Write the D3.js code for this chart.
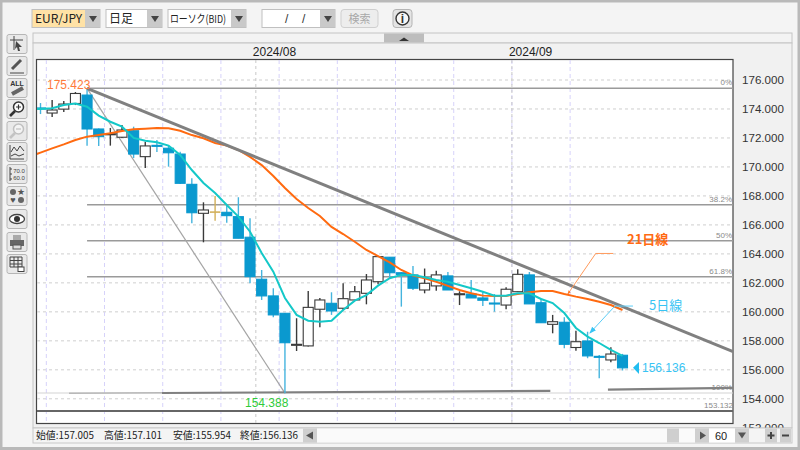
<!DOCTYPE html>
<html>
<head>
<meta charset="utf-8">
<script src="https://cdn.jsdelivr.net/npm/d3@7"></script>
<style>
  html, body { margin: 0; padding: 0; background: #f4f4f4; overflow: hidden; }
  svg { display: block; }
  text { font-family: "Liberation Sans", sans-serif; }
  .jp { font-family: "Noto Sans CJK JP", sans-serif; }
</style>
</head>
<body>
<div id="chart-container"></div>
<script>
const opens = [174.07,173.72,173.99,174.38,174.96,172.62,172.25,172.05,172.50,170.71,171.49,171.29,170.89,168.80,166.80,166.91,166.87,166.57,165.15,162.25,161.10,159.90,157.72,157.65,160.18,160.59,160.25,160.82,161.28,162.08,163.77,162.70,162.55,161.51,161.79,162.48,161.21,161.23,160.96,160.61,160.47,161.39,162.55,160.63,159.14,159.28,157.54,157.99,156.93,156.68,157.005];
const highs = [174.41,174.62,174.55,175.17,175.423,172.65,172.69,172.89,172.78,171.74,171.86,171.45,171.05,169.22,167.56,168.00,167.38,167.91,166.46,162.89,161.63,159.92,159.56,161.44,160.96,161.35,161.97,161.79,162.61,163.82,163.79,162.75,163.17,162.99,162.84,162.75,161.42,162.20,161.39,161.23,161.70,162.94,162.75,160.94,159.79,159.63,158.70,158.63,157.02,157.56,157.101];
const lows = [173.65,173.45,173.79,174.27,171.47,171.45,171.47,172.00,170.62,169.93,171.03,170.02,168.82,166.11,164.80,166.29,166.15,165.08,161.97,160.82,159.63,154.388,157.30,157.61,158.94,159.79,160.13,160.75,160.52,161.90,162.32,160.36,161.51,161.28,161.46,161.51,160.47,160.96,160.40,160.01,160.18,161.37,160.55,159.23,158.52,157.49,157.32,156.80,155.42,156.52,155.954];
const closes = [174.03,173.93,174.34,175.07,172.62,172.09,172.29,172.55,170.89,171.45,171.45,170.98,168.87,166.84,167.03,166.91,166.64,165.08,162.43,161.10,159.79,157.87,157.76,160.31,160.82,160.06,160.91,161.39,162.20,163.81,162.70,162.57,161.63,161.97,162.55,161.51,161.25,160.96,160.80,160.57,161.56,162.59,160.55,159.25,159.32,157.76,157.94,156.96,156.89,157.09,156.136];

// both averages start one day before the first candle, the plot edge cuts them
const ma5 = [174.02,174.00,174.05,174.28,174.37,174.16,173.54,173.12,172.78,172.00,171.81,171.70,171.47,170.83,169.79,168.89,168.20,167.37,166.57,165.53,164.06,162.77,160.96,159.79,159.39,159.32,159.39,160.13,160.77,161.16,161.81,162.32,162.55,162.55,162.39,162.20,162.08,161.85,161.63,161.39,161.12,161.12,161.28,161.28,160.89,160.61,159.92,158.89,158.29,157.85,157.37,156.96];
const ma21 = [170.70,170.99,171.28,171.56,171.86,172.09,172.20,172.32,172.48,172.60,172.64,172.69,172.67,172.50,172.20,171.98,171.65,171.47,171.17,170.69,170.13,169.38,168.55,167.79,167.17,166.62,165.86,165.37,164.84,164.27,163.85,163.41,162.89,162.51,162.32,162.08,161.79,161.51,161.28,161.12,161.10,161.10,161.23,161.35,161.44,161.44,161.23,161.05,160.89,160.70,160.47,160.13];

const yTicks = [176,174,172,170,168,166,164,162,160,158,156,154,152];
const monthLabels = ["2024/08","2024/09"];
const monthIndex = [18.5,40.5];
const weekIndex = [0.5,5.5,10.5,15.5,20.5,25.5,30.5,35.5,40.5,45.5];

const fibValues = [175.423,167.39,164.906,162.423];
const fibLabels = ["0%","38.2%","50%","61.8%"];
const fibLow = 154.40;
const mainTrend = [[4,175.423],[59.5,157.26]];
const fibDiagonal = [[4,175.423],[21,154.388]];
const supportThin = [[2.45,154.38],[10.44,154.42]];
const supportLeft = [[10.44,154.40],[43.8,154.55]];
const supportRight = [[48.75,154.64],[59.5,154.75]];
const leader21 = [[49.2,164.03],[47.7,164.03],[45.3,161.23]];
const leader5 = [[50.9,160.40],[49.35,160.40],[47.2,158.54]];

const statusLabels = ["始値:157.005","高値:157.101","安値:155.954","終値:156.136"];
const statusX = [36,104,173,240];

const main = function() {
  const svg = d3.select("#chart-container").append("svg").attr("width",800).attr("height",450);
  const defs = svg.append("defs");
  defs.append("clipPath").attr("id","plot-clip").append("rect").attr("x",37).attr("y",60).attr("width",696).attr("height",351);
  const arrow = function(id,color,size) {
    defs.append("marker").attr("id",id).attr("viewBox","0 0 8 8").attr("refX",7).attr("refY",4)
      .attr("markerWidth",size).attr("markerHeight",size).attr("orient","auto")
      .append("path").attr("d","M0,1 L8,4 L0,7 Z").attr("fill",color);
  };
  arrow("arrow-orange","#ff7a2a",4);
  arrow("arrow-cyan","#38c4f4",7);

  const x = d3.scaleLinear().domain([0,50]).range([40.5,622.5]);
  const y = d3.scaleLinear().domain([176,154]).range([80,398.8]);

  // window frame
  svg.append("rect").attr("width",800).attr("height",450).attr("fill","#f4f4f4");
  svg.append("rect").attr("x",1).attr("y",1).attr("width",798).attr("height",447.5)
    .attr("fill","none").attr("stroke","#b9b9b9").attr("stroke-width",3);

  drawToolbar(svg);
  drawSideButtons(svg);

  // strips above the plot
  svg.append("rect").attr("x",33).attr("y",33).attr("width",759).attr("height",10).attr("fill","#f3f3f3").attr("stroke","#c4c4c4");
  svg.append("rect").attr("x",384).attr("y",33.5).attr("width",40).attr("height",9).attr("fill","#bdbdbd");
  svg.append("path").attr("d","M399,41 L404,37.5 L409,41 Z").attr("fill","#333");
  svg.append("rect").attr("x",33).attr("y",43).attr("width",759).attr("height",385).attr("fill","#f1f1f1").attr("stroke","#c4c4c4");

  svg.selectAll(".month").data(monthLabels).enter().append("text")
    .attr("x",(d,i) => x(monthIndex[i]) - 3).attr("y",56).attr("font-size",12).attr("fill","#222").text(d => d);

  // plot
  svg.append("rect").attr("x",36.5).attr("y",59.5).attr("width",696.5).attr("height",364)
    .attr("fill","#fff").attr("stroke","#444").attr("stroke-width",1.2);

  const gridLayer = svg.append("g");
  gridLayer.selectAll(".h").data(yTicks.slice(0,-1)).enter().append("line")
    .attr("x1",37).attr("x2",733).attr("y1",d => y(d)).attr("y2",d => y(d))
    .attr("stroke","#cfcfcf").attr("stroke-dasharray","3 3");
  gridLayer.selectAll(".week").data(weekIndex).enter().append("line")
    .attr("x1",d => x(d)).attr("x2",d => x(d)).attr("y1",60).attr("y2",423)
    .attr("stroke","#d6d2fa").attr("stroke-dasharray","4 3");
  gridLayer.selectAll(".month-line").data(monthIndex).enter().append("line")
    .attr("x1",d => x(d)).attr("x2",d => x(d)).attr("y1",60).attr("y2",423)
    .attr("stroke","#c8c8c8").attr("stroke-dasharray","3 3");

  const plot = svg.append("g").attr("clip-path","url(#plot-clip)");

  // fibonacci levels
  plot.selectAll(".fib").data(fibValues).enter().append("line")
    .attr("x1",x(4)).attr("x2",733).attr("y1",d => y(d)).attr("y2",d => y(d))
    .attr("stroke","#9a9a9a").attr("stroke-width",1.5);
  plot.append("line").attr("x1",37).attr("x2",733).attr("y1",y(fibLow)).attr("y2",y(fibLow))
    .attr("stroke","#d4d4d4").attr("stroke-width",1.2);

  const priceLine = d3.line().x(d => x(d[0])).y(d => y(d[1]));
  plot.append("path").attr("d",priceLine(fibDiagonal)).attr("fill","none").attr("stroke","#a4a4a4").attr("stroke-width",1.2);
  plot.append("path").attr("d",priceLine(supportThin)).attr("fill","none").attr("stroke","#b8b8b8").attr("stroke-width",1.4);
  plot.append("path").attr("d",priceLine(supportLeft)).attr("fill","none").attr("stroke","#808080").attr("stroke-width",2.2);
  plot.append("path").attr("d",priceLine(supportRight)).attr("fill","none").attr("stroke","#808080").attr("stroke-width",2.2);

  // candles
  const candleData = opens.map((o,i) => ({i:i,o:o,h:highs[i],l:lows[i],c:closes[i]}));
  const wickColor = d => d.c < d.o ? "#45b4de" : d.c > d.o ? "#3a3a3a" : "#d2b05a";
  const candles = plot.selectAll(".candle").data(candleData).enter().append("g");
  candles.append("line").attr("x1",d => x(d.i)).attr("x2",d => x(d.i))
    .attr("y1",d => y(d.h)).attr("y2",d => y(d.l))
    .attr("stroke",wickColor).attr("stroke-width",1.4);
  candles.append("rect").attr("x",d => x(d.i) - 5).attr("width",10)
    .attr("y",d => y(Math.max(d.o,d.c))).attr("height",d => Math.max(Math.abs(y(d.o) - y(d.c)),1))
    .attr("fill",d => d.c < d.o ? "#0a99cf" : d.c > d.o ? "#fff" : "#d2b05a")
    .attr("stroke",d => d.c < d.o ? "#0a99cf" : d.c > d.o ? "#3a3a3a" : "#d2b05a")
    .attr("stroke-width",d => d.c === d.o ? 0.6 : 1.1);

  // moving averages
  const maLine = d3.line().x((d,i) => x(i - 1)).y(d => y(d));
  plot.append("path").attr("d",maLine(ma21)).attr("fill","none").attr("stroke","#ff6a10").attr("stroke-width",2);
  plot.append("path").attr("d",maLine(ma5)).attr("fill","none").attr("stroke","#14c8c8").attr("stroke-width",2);

  plot.append("path").attr("d",priceLine(mainTrend)).attr("fill","none").attr("stroke","#808080").attr("stroke-width",3);

  // separator of the lower panel, sits over the marks
  svg.append("line").attr("x1",37).attr("x2",733).attr("y1",411).attr("y2",411).attr("stroke","#666").attr("stroke-width",2);

  // leaders
  svg.append("path").attr("d",priceLine(leader21)).attr("fill","none").attr("stroke","#ff9a5c").attr("stroke-width",1)
    .attr("marker-end","url(#arrow-orange)");
  svg.append("path").attr("d",priceLine(leader5)).attr("fill","none").attr("stroke","#5ccdf6").attr("stroke-width",1)
    .attr("marker-end","url(#arrow-cyan)");
  svg.append("text").attr("class","jp").attr("x",627).attr("y",244).attr("font-size",13).attr("font-weight",700).attr("fill","#ff6a13").text("21日線");
  svg.append("text").attr("class","jp").attr("x",649).attr("y",310).attr("font-size",13).attr("fill","#38c4f4").text("5日線");

  // price labels
  svg.append("text").attr("x",47).attr("y",89).attr("font-size",12).attr("fill","#ff7a3a").text("175.423");
  svg.append("text").attr("x",245).attr("y",407).attr("font-size",12).attr("fill","#2fcb3a").text("154.388");
  svg.append("path").attr("d","M639,362 L633,367.8 L639,374 Z").attr("fill","#22bdf0");
  svg.append("text").attr("x",642).attr("y",372).attr("font-size",12).attr("fill","#38c4f4").text("156.136");

  // fibonacci captions
  svg.selectAll(".fib-label").data(fibLabels).enter().append("text")
    .attr("x",732).attr("y",(d,i) => y(fibValues[i]) - 3).attr("text-anchor","end")
    .attr("font-size",8).attr("fill","#8a8a8a").text(d => d);
  svg.append("text").attr("x",732).attr("y",390).attr("text-anchor","end").attr("font-size",8).attr("fill","#8a8a8a").text("100%");
  svg.append("text").attr("x",733).attr("y",408).attr("text-anchor","end").attr("font-size",8).attr("fill","#8a8a8a").text("153.132");

  // right axis, the lowest label is cut by the status bar
  const axis = svg.append("g").attr("transform","translate(733,0)")
    .call(d3.axisRight(y).tickValues(yTicks).tickFormat(d3.format(".3f")).tickSize(0).tickPadding(9));
  axis.select(".domain").remove();
  axis.selectAll("text").attr("font-size",11.6).attr("font-family","'Liberation Sans', sans-serif").attr("fill","#333");
  svg.append("rect").attr("x",733.6).attr("y",428).attr("width",60).attr("height",14).attr("fill","#f4f4f4");

  drawStatusBar(svg);
};

const selectBox = function(svg,x0,width,label,fill) {
  const g = svg.append("g");
  g.append("rect").attr("x",x0).attr("y",9.5).attr("width",width).attr("height",18)
    .attr("fill",fill).attr("stroke","#c0c0c0");
  g.append("rect").attr("x",x0 + width - 15).attr("y",10).attr("width",15).attr("height",17).attr("fill","#c9c9c9");
  g.append("path").attr("d",`M${x0 + width - 11},16 h8 l-4,6 Z`).attr("fill","#444");
  if (label) {
    g.append("text").attr("class","jp").attr("x",x0 + 3).attr("y",23).attr("font-size",12).attr("fill","#222").text(label);
  }
  return g;
};

const drawToolbar = function(svg) {
  selectBox(svg,32,68,"EUR/JPY","#ffe2a6");
  selectBox(svg,106,56,"日足","#fff");
  selectBox(svg,168,78,null,"#fff");
  svg.append("text").attr("class","jp").attr("x",170).attr("y",23).attr("font-size",11)
    .attr("textLength",56).attr("lengthAdjust","spacingAndGlyphs").attr("fill","#222").text("ローソク(BID)");
  selectBox(svg,262,73,null,"#fff");
  svg.append("text").attr("x",285).attr("y",23).attr("font-size",12).attr("fill","#333").text("/");
  svg.append("text").attr("x",302).attr("y",23).attr("font-size",12).attr("fill","#333").text("/");
  svg.append("rect").attr("x",341).attr("y",9.5).attr("width",37).attr("height",18).attr("rx",3)
    .attr("fill","#ededed").attr("stroke","#cfcfcf");
  svg.append("text").attr("class","jp").attr("x",359.5).attr("y",23).attr("text-anchor","middle").attr("font-size",11).attr("fill","#a8a8a8").text("検索");
  svg.append("rect").attr("x",393).attr("y",9.5).attr("width",19).attr("height",18).attr("rx",3)
    .attr("fill","#e4e4e4").attr("stroke","#b4b4b4");
  svg.append("circle").attr("cx",402.5).attr("cy",18.5).attr("r",6.5).attr("fill","#f6f6f6").attr("stroke","#333").attr("stroke-width",1.4);
  svg.append("text").attr("x",402.5).attr("y",23).attr("text-anchor","middle").attr("font-size",12).attr("font-weight",700).attr("fill","#333").text("i");
};

const drawSideButtons = function(svg) {
  const centers = [44,66,88,109,131,152,174,196,219,242,264];
  const buttons = svg.selectAll(".side").data(centers).enter().append("g")
    .attr("transform",d => `translate(17,${d})`);
  buttons.append("rect").attr("x",-10).attr("y",-9.5).attr("width",20).attr("height",19).attr("rx",2)
    .attr("fill","#e9e9e9").attr("stroke","#b6b6b6");
  const icon = (i) => d3.select(buttons.nodes()[i]);
  const stroke = (g,d,w,c) => g.append("path").attr("d",d).attr("fill","none").attr("stroke",c || "#444").attr("stroke-width",w || 1);
  const solid = (g,d,c) => g.append("path").attr("d",d).attr("fill",c || "#444");

  stroke(icon(0),"M-7,-4 H6 M-3,-8 V6",1);
  solid(icon(0),"M-1,-3 L5,3 L2,3 L3,7 L1,7 L0,3 L-2,5 Z");
  stroke(icon(1),"M-5,3 L4,-6",3,"#555");
  stroke(icon(1),"M-7,7 H7",1);
  icon(2).append("text").attr("x",0).attr("y",-2).attr("text-anchor","middle").attr("font-size",7).attr("font-weight",700).attr("fill","#333").text("ALL");
  stroke(icon(2),"M-5,6 L6,0",4,"#666");
  icon(3).append("circle").attr("cx",1.5).attr("cy",-2).attr("r",5).attr("fill","#fff").attr("stroke","#333").attr("stroke-width",1.5);
  stroke(icon(3),"M-2,2 L-7,7",2.6,"#333");
  stroke(icon(3),"M-1,-2 H4 M1.5,-4.5 V0.5",1.2,"#333");
  icon(4).append("circle").attr("cx",1.5).attr("cy",-2).attr("r",5).attr("fill","#f4f4f4").attr("stroke","#c0c0c0").attr("stroke-width",1.5);
  stroke(icon(4),"M-2,2 L-7,7",2.6,"#c4c4c4");
  stroke(icon(4),"M-1,-2 H4",1.2,"#c0c0c0");
  stroke(icon(5),"M-7,-7 V7 H7",1);
  stroke(icon(5),"M-6,0 L-3,-5 L0,-1 L3,-6 L7,-1",1);
  stroke(icon(5),"M-6,4 L-2,2 L2,4 L7,2",1);
  stroke(icon(6),"M-7,-7 V7 M-7,-5 H-5 M-7,0 H-5 M-7,5 H-5",1);
  icon(6).append("text").attr("x",2).attr("y",-1).attr("text-anchor","middle").attr("font-size",6).attr("fill","#444").text("70.0");
  icon(6).append("text").attr("x",2).attr("y",6).attr("text-anchor","middle").attr("font-size",6).attr("fill","#444").text("60.0");
  icon(7).append("circle").attr("cx",-4).attr("cy",-4).attr("r",3).attr("fill","#666");
  icon(7).append("text").attr("x",4).attr("y",-1).attr("text-anchor","middle").attr("font-size",9).attr("fill","#555").text("★");
  icon(7).append("text").attr("x",-4).attr("y",7).attr("text-anchor","middle").attr("font-size",9).attr("fill","#555").text("♥");
  icon(7).append("circle").attr("cx",4).attr("cy",4).attr("r",3).attr("fill","#666");
  icon(8).append("ellipse").attr("rx",7.5).attr("ry",4.5).attr("fill","#fff").attr("stroke","#444").attr("stroke-width",1.3);
  icon(8).append("circle").attr("r",3).attr("fill","#333");
  icon(9).append("rect").attr("x",-7).attr("y",-2).attr("width",14).attr("height",6).attr("fill","#666");
  icon(9).append("rect").attr("x",-4).attr("y",-7).attr("width",8).attr("height",5).attr("fill","#aaa");
  icon(9).append("rect").attr("x",-4).attr("y",3).attr("width",8).attr("height",4).attr("fill","#ddd").attr("stroke","#555");
  stroke(icon(10),"M-7,-7 H5 V3 H-7 Z M-7,-3.5 H5 M-7,0 H5 M-3,-7 V3 M1,-7 V3",1);
  icon(10).append("rect").attr("x",1).attr("y",3).attr("width",6).attr("height",4.5).attr("fill","#fff").attr("stroke","#444");
};

const drawStatusBar = function(svg) {
  svg.append("rect").attr("x",33).attr("y",428).attr("width",759).attr("height",15).attr("fill","#f4f4f4").attr("stroke","#c8c8c8");
  svg.selectAll(".status").data(statusLabels).enter().append("text").attr("class","jp")
    .attr("x",(d,i) => statusX[i]).attr("y",439).attr("font-size",10).attr("fill","#222")
    .attr("textLength",58).attr("lengthAdjust","spacingAndGlyphs").text(d => d);
  svg.append("rect").attr("x",303).attr("y",428.5).attr("width",14).attr("height",14).attr("fill","#cfcfcf");
  svg.append("path").attr("d","M306,435.5 L313,431.5 V439.5 Z").attr("fill","#555");
  svg.append("rect").attr("x",317).attr("y",428.5).attr("width",378).attr("height",14).attr("fill","#fafafa");
  svg.append("rect").attr("x",667).attr("y",428.5).attr("width",12).attr("height",14).attr("fill","#cfcfcf");
  svg.append("rect").attr("x",695).attr("y",428.5).attr("width",14).attr("height",14).attr("fill","#cfcfcf");
  svg.append("path").attr("d","M700,431.5 L706,435.5 L700,439.5 Z").attr("fill","#555");
  svg.append("rect").attr("x",709).attr("y",428.5).attr("width",26).attr("height",14).attr("fill","#fff");
  svg.append("text").attr("x",721).attr("y",439.5).attr("text-anchor","middle").attr("font-size",11).attr("fill","#222").text("60");
  svg.append("rect").attr("x",735).attr("y",428.5).attr("width",14).attr("height",14).attr("fill","#cfcfcf");
  svg.append("path").attr("d","M738,432.5 H746 L742,438.5 Z").attr("fill","#555");
  svg.append("rect").attr("x",765).attr("y",428.5).attr("width",12).attr("height",14).attr("fill","#cfcfcf");
  svg.append("path").attr("d","M771,432 V439 M767.5,435.5 H774.5").attr("stroke","#444").attr("stroke-width",2);
  svg.append("rect").attr("x",780).attr("y",428.5).attr("width",11).attr("height",14).attr("fill","#cfcfcf");
  svg.append("path").attr("d","M782,435.5 H789").attr("stroke","#444").attr("stroke-width",2);
};

window.onload = main;
</script>
</body>
</html>
